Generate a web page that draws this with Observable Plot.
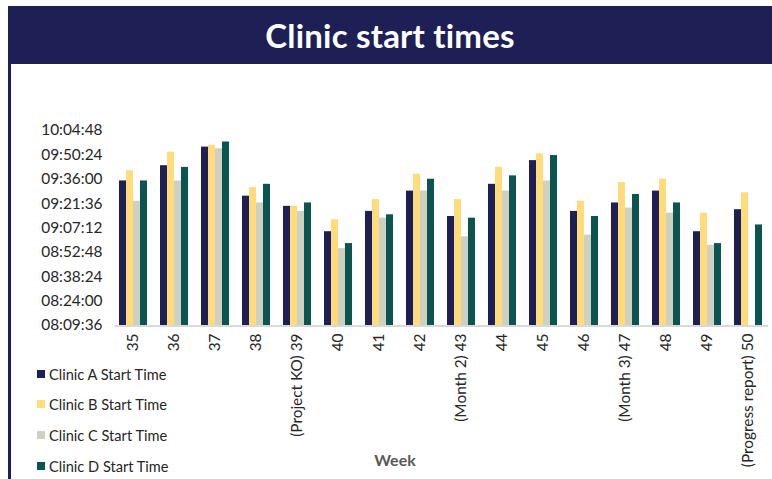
<!DOCTYPE html>
<html>
<head>
<meta charset="utf-8">
<script src="https://cdn.jsdelivr.net/npm/d3@7"></script>
<script src="https://cdn.jsdelivr.net/npm/@observablehq/plot@0.6"></script>
<style>
  html, body { margin: 0; padding: 0; background: #ffffff; }
  #wrap { position: relative; width: 772px; height: 479px; overflow: hidden; background: #fff; }
  #title { position: absolute; left: 8px; top: 6px; width: 764px; height: 58px; background: #1e1f55;
    color: #fff; font-family: Lato, "Noto Sans", sans-serif; font-weight: 700; font-size: 33px;
    display: flex; align-items: center; justify-content: center; letter-spacing: 0.2px; }
  #vline { position: absolute; left: 8px; top: 62px; width: 3px; height: 417px; background: #1e1f55; }
  #chart { position: absolute; left: 0; top: 0; }
  #legend { position: absolute; left: 37px; top: 0; font-family: Lato, sans-serif; font-size: 14.6px; color: #262626; }
  .li { position: absolute; left: 0; white-space: nowrap; display: flex; align-items: center; }
  .sw { width: 8px; height: 8px; margin-right: 4px; }
</style>
</head>
<body>
<div id="wrap">
  <div id="chart"></div>
  <div id="title">Clinic start times</div>
  <div id="vline"></div>
  <div id="legend"></div>
</div>
<script>
const weeks = ["35","36","37","38","(Project KO) 39","40","41","42","(Month 2) 43","44","45","46","(Month 3) 47","48","49","(Progress report) 50"];
const clinics = ["Clinic A Start Time","Clinic B Start Time","Clinic C Start Time","Clinic D Start Time"];
const colors = ["#1e1f55","#ffdb7a","#cfd0c4","#0b5450"];
const clinicA = ["09:35","09:44","09:55","09:26","09:20","09:05","09:17","09:29","09:14","09:33","09:47","09:17","09:22","09:29","09:05","09:18"];
const clinicB = ["09:41","09:52","09:56","09:31","09:20","09:12","09:24","09:39","09:24","09:43","09:51","09:23","09:34","09:36","09:16","09:28"];
const clinicC = ["09:23","09:35","09:54","09:22","09:17","08:55","09:13","09:29","09:02","09:29","09:35","09:03","09:19","09:16","08:57",null];
const clinicD = ["09:35","09:43","09:58","09:33","09:22","08:58","09:15","09:36","09:13","09:38","09:50","09:14","09:27","09:22","08:58","09:09"];
const yTickLabels = ["08:09:36","08:24:00","08:38:24","08:52:48","09:07:12","09:21:36","09:36:00","09:50:24","10:04:48"];

const toMin = s => { const p = s.split(":").map(Number); return p[0]*60 + p[1] + (p[2]||0)/60; };
const yTicks = yTickLabels.map(toMin);
const yBase = yTicks[0], yTop = yTicks[yTicks.length-1];
const fmt = m => { const t = Math.round(m*60); const h = Math.floor(t/3600), mi = Math.floor((t%3600)/60), s = t%60;
  return [h,mi,s].map(v => String(v).padStart(2,"0")).join(":"); };

const series = [clinicA, clinicB, clinicC, clinicD];
const data = [];
weeks.forEach((w, i) => series.forEach((arr, j) => {
  if (arr[i] != null) data.push({week: w, clinic: clinics[j], value: toMin(arr[i])});
}));

const W = 772, H = 479;
const chart = Plot.plot({
  width: W, height: H,
  marginLeft: 115, marginRight: 7, marginTop: 130, marginBottom: 154,
  style: {fontFamily: "Lato, sans-serif", fontSize: "15.4px", color: "#262626", background: "transparent"},
  fx: {domain: weeks, padding: 0.27, label: null, axis: "bottom", tickRotate: -90, tickSize: 0, tickPadding: 8},
  x: {domain: clinics, axis: null, padding: 0},
  y: {domain: [yBase, yTop], ticks: yTicks, tickFormat: fmt, tickSize: 0, tickPadding: 16, label: null},
  color: {domain: clinics, range: colors},
  marks: [
    Plot.barY(data, {fx: "week", x: "clinic", y1: () => yBase, y2: "value", fill: "clinic"})
  ]
});
document.getElementById("chart").appendChild(chart);

const svg = d3.select(chart);
const ys = chart.scale("y");
const yb = ys.apply(yBase);
svg.insert("line", ":first-child")
  .attr("x1", 115).attr("x2", W - 4).attr("y1", yb + 1).attr("y2", yb + 1)
  .attr("stroke", "#d9d9d9").attr("stroke-width", 2);
svg.append("text").attr("x", 395).attr("y", 466).attr("text-anchor", "middle")
  .attr("font-family", "Lato, sans-serif").attr("font-weight", 700).attr("font-size", 16)
  .attr("fill", "#595959").text("Week");

const legendY = [374, 404, 435, 466];
const lg = document.getElementById("legend");
clinics.forEach((c, i) => {
  const d = document.createElement("div");
  d.className = "li";
  d.style.top = (legendY[i] - 9) + "px";
  d.style.height = "18px";
  d.innerHTML = `<span class="sw" style="background:${colors[i]}"></span><span>${c}</span>`;
  lg.appendChild(d);
});
</script>
</body>
</html>
